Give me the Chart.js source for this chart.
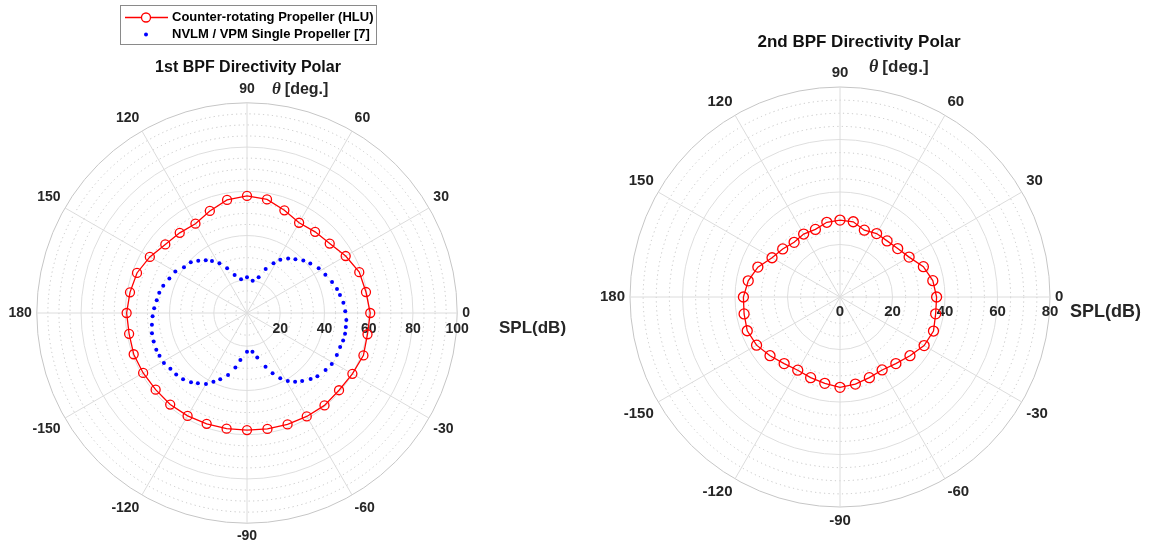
<!DOCTYPE html>
<html><head><meta charset="utf-8">
<script src="https://cdn.jsdelivr.net/npm/chart.js@4.4.1/dist/chart.umd.min.js"></script>
<style>
html,body{margin:0;padding:0;background:#fff;width:1150px;height:546px;overflow:hidden;position:relative}
#c1{position:absolute;left:-40px;top:0}
#c2{position:absolute;left:570px;top:0}
</style></head><body>
<canvas id="c1" width="620" height="546"></canvas>
<canvas id="c2" width="580" height="546"></canvas>
<script>
// ---- data ----
const angleTicks = [0,30,60,90,120,150,180,210,240,270,300,330];
const angleTickLabels = ['0','30','60','90','120','150','180','-150','-120','-90','-60','-30'];
const rTicks1 = [20,40,60,80,100];
const rTicks2 = [0,20,40,60,80];
const rRange1 = [5,100];
const rRange2 = [0,80];
const seriesNames = ['Counter-rotating Propeller (HLU)','NVLM / VPM Single Propeller [7]'];
const titles = ['1st BPF Directivity Polar','2nd BPF Directivity Polar'];
const thetaLabel = '\u03B8';
const thetaUnit = '[deg.]';
const rLabel = 'SPL(dB)';

const redAngles = [0,10,20,30,40,50,60,70,80,90,100,110,120,130,140,150,160,170,180,190,200,210,220,230,240,250,260,270,280,290,300,310,320,330,340,350];
const redSPL1 = [60.7,59.6,59.0,56.5,53.8,52.9,52.1,54.4,57.1,57.9,56.9,54.1,51.6,52.3,53.2,55.7,57.9,58.7,59.4,59.1,59.5,59.2,58.9,59.0,58.7,58.3,58.1,57.9,58.2,58.6,59.0,59.5,59.3,60.0,61.0,60.3];
const redSPL2 = [36.8,35.9,33.8,30.4,28.7,27.9,27.9,27.1,29.1,29.3,28.9,27.4,27.7,27.2,28.5,29.9,33.3,35.5,36.8,37.1,37.6,36.7,34.8,33.1,32.2,32.7,33.4,34.4,33.7,32.7,32.1,33.1,34.8,37.0,37.9,37.0];
const blueAngles1 = [1,6,11,15,20,26,32,38,43,48,53,58,62,67,72,80,90,100,108,114,119,124,128,133,138,144,150,156,162,167,172,177,182,187,192,197,202,206,211,216,221,226,231,235,240,244,248,253,258,262,270,278,283,289,293,297,301,305,309,314,318,324,329,335,340,344,348,352,356];
const blueSPL1 = [49.4,48.8,47.8,47.1,45.9,44.4,43.2,41.3,39.8,37.7,35.9,33.4,30.5,26.6,22.0,19.8,21.2,20.5,23.1,27.1,30.7,33.3,35.3,37.3,39.2,40.2,42.4,43.4,44.8,45.7,46.2,47.0,47.7,48.3,48.9,49.1,49.2,49.0,48.8,47.8,47.4,46.6,45.2,43.7,42.1,39.6,37.3,34.3,30.2,26.5,22.5,22.7,25.6,30.7,34.6,38.1,40.8,42.9,44.6,46.4,47.8,48.9,49.7,49.8,49.8,50.2,50.3,50.1,50.0];

// ---- helpers: polar angle (deg, CCW from right) -> radar label index (1 deg steps, clockwise from top) ----
const N = 360;
const idx = t => ((90 - t) % 360 + 360) % 360;
const labels = Array.from({length: N}, (_, i) => {
  const th = ((90 - i) % 360 + 360) % 360;
  const k = angleTicks.indexOf(th);
  return k >= 0 ? angleTickLabels[k] : '';
});
function place(angles, vals) {
  const a = new Array(N).fill(null);
  angles.forEach((t, j) => { a[idx(t)] = vals[j]; });
  return a;
}

const SANS = '"Liberation Sans", Arial, Helvetica, sans-serif';

const decor = {
  id: 'decor',
  beforeDatasetsDraw(chart, args, o) {
    const s = chart.scales.r, ctx = chart.ctx;
    const xc = s.xCenter, yc = s.yCenter;
    ctx.save();
    ctx.fillStyle = '#262626';
    ctx.textBaseline = 'middle';
    // r tick labels along the 0 deg axis
    ctx.font = 'bold ' + o.tickSize + 'px ' + SANS;
    ctx.textAlign = 'center';
    o.rTicks.forEach(v => ctx.fillText(String(v), xc + s.getDistanceFromCenterForValue(v), yc + o.tickDy));
    // r axis label
    ctx.textAlign = 'left';
    ctx.font = 'bold ' + o.rLabelSize + 'px ' + SANS;
    ctx.fillText(rLabel, xc + o.rLabelDx, yc + o.rLabelDy);
    // theta label
    ctx.font = 'italic bold ' + (o.thetaSize + 1) + 'px "Liberation Serif", "DejaVu Serif", serif';
    const tx = xc + o.thetaDx, ty = yc + o.thetaDy;
    ctx.fillText(thetaLabel, tx, ty);
    const w = ctx.measureText(thetaLabel).width;
    ctx.font = 'bold ' + o.thetaSize + 'px ' + SANS;
    ctx.fillText(thetaUnit, tx + w + 4, ty);
    // title
    ctx.fillStyle = '#111';
    ctx.textAlign = 'center';
    ctx.font = 'bold ' + o.titleSize + 'px ' + SANS;
    ctx.fillText(o.title, xc + o.titleDx, yc + o.titleDy);
    ctx.restore();
  },
  afterDraw(chart, args, o) {
    if (!o.legend) return;
    const L = o.legend, ctx = chart.ctx;
    ctx.save();
    ctx.fillStyle = '#fff';
    ctx.fillRect(L.x, L.y, L.w, L.h);
    ctx.strokeStyle = '#8a8a8a';
    ctx.lineWidth = 1;
    ctx.strokeRect(L.x + 0.5, L.y + 0.5, L.w, L.h);
    chart.data.datasets.forEach((ds, i) => {
      const y = L.y + 12.5 + i * 17;
      const mx = L.x + 26;
      if (ds.showLine !== false) {
        ctx.strokeStyle = ds.borderColor; ctx.lineWidth = ds.borderWidth;
        ctx.beginPath(); ctx.moveTo(L.x + 5, y); ctx.lineTo(L.x + 48, y); ctx.stroke();
        ctx.beginPath(); ctx.arc(mx, y, ds.pointRadius, 0, Math.PI * 2);
        ctx.fillStyle = '#fff'; ctx.fill();
        ctx.strokeStyle = ds.pointBorderColor; ctx.lineWidth = ds.pointBorderWidth; ctx.stroke();
      } else {
        ctx.beginPath(); ctx.arc(mx, y, ds.pointRadius, 0, Math.PI * 2);
        ctx.fillStyle = ds.pointBackgroundColor; ctx.fill();
      }
      ctx.fillStyle = '#000';
      ctx.font = 'bold 13px ' + SANS;
      ctx.textAlign = 'left'; ctx.textBaseline = 'middle';
      ctx.fillText(ds.label, L.x + 52, y);
    });
    ctx.restore();
  }
};

function rScale(range, labelSize) {
  return {
    min: range[0], max: range[1], startAngle: 0,
    ticks: {display: false, stepSize: 5},
    grid: {
      circular: true, lineWidth: 1,
      color: c => (c.tick && c.tick.value === range[1]) ? '#c6c6c6' :
                  (c.tick && c.tick.value % 20 === 0 ? '#dedede' : '#c4c4c4')
    },
    border: {
      dash: c => (c.tick && c.tick.value % 20 === 0) ? [] : [1.2, 3.3]
    },
    angleLines: {
      lineWidth: 1,
      color: c => (c.index % 30 === 0 ? '#dcdcdc' : 'transparent')
    },
    pointLabels: {
      padding: 5, color: '#262626',
      font: {family: SANS, size: labelSize, weight: 'bold'}
    }
  };
}

function redDs(vals, r) {
  return {
    label: seriesNames[0], data: place(redAngles, vals),
    borderColor: '#ff0000', borderWidth: 1.3, fill: false, spanGaps: true,
    pointStyle: 'circle', pointRadius: r, pointBorderColor: '#ff0000',
    pointBackgroundColor: 'rgba(0,0,0,0)', pointBorderWidth: 1.3, tension: 0, order: 0
  };
}

new Chart(document.getElementById('c1'), {
  type: 'radar',
  data: {
    labels: labels,
    datasets: [
      redDs(redSPL1, 4.5),
      {
        label: seriesNames[1], data: place(blueAngles1, blueSPL1),
        showLine: false, borderColor: '#0000ff', pointRadius: 2,
        pointBackgroundColor: '#0000ff', pointBorderWidth: 0, fill: false, order: 1
      }
    ]
  },
  options: {
    responsive: false, animation: false, devicePixelRatio: 1, events: [],
    layout: {padding: {left: 0, right: 46, top: 81, bottom: 1}},
    plugins: {
      legend: {display: false}, tooltip: {enabled: false}, title: {display: false},
      decor: {
        rTicks: rTicks1, tickSize: 14, tickDy: 16,
        rLabelSize: 17, rLabelDx: 252, rLabelDy: 15,
        thetaSize: 16, thetaDx: 25, thetaDy: -223,
        title: titles[0], titleSize: 16, titleDx: 1, titleDy: -245,
        legend: {x: 160, y: 5, w: 256, h: 39}
      }
    },
    scales: {r: rScale(rRange1, 14)}
  },
  plugins: [decor]
});

new Chart(document.getElementById('c2'), {
  type: 'radar',
  data: {
    labels: labels,
    datasets: [redDs(redSPL2, 5)]
  },
  options: {
    responsive: false, animation: false, devicePixelRatio: 1, events: [],
    layout: {padding: {left: 0, right: 40, top: 64, bottom: 16}},
    plugins: {
      legend: {display: false}, tooltip: {enabled: false}, title: {display: false},
      decor: {
        rTicks: rTicks2, tickSize: 15, tickDy: 15,
        rLabelSize: 18, rLabelDx: 230, rLabelDy: 15,
        thetaSize: 17, thetaDx: 29, thetaDy: -230,
        title: titles[1], titleSize: 17, titleDx: 19, titleDy: -255,
        legend: null
      }
    },
    scales: {r: rScale(rRange2, 15)}
  },
  plugins: [decor]
});
</script></body></html>
